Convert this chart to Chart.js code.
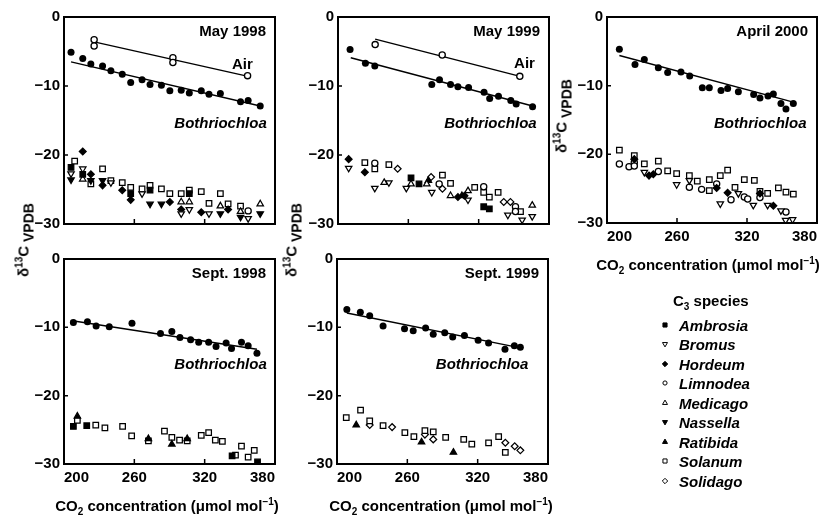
<!DOCTYPE html>
<html>
<head>
<meta charset="utf-8">
<script src="https://cdn.jsdelivr.net/npm/chart.js@4.4.1/dist/chart.umd.min.js"></script>
<style>
  body { margin: 0; background: #fff; }
  #wrap { position: relative; width: 827px; height: 516px; overflow: hidden;
          font-family: "Liberation Sans", Arial, sans-serif; font-weight: bold; color: #000; }
  canvas.panel { position: absolute; }
  .lbl { position: absolute; white-space: nowrap; font-size: 15px; line-height: 1; }
  .lbl sup { font-size: 10px; vertical-align: 6px; line-height: 0; }
  .lbl sub { font-size: 10px; vertical-align: -4px; line-height: 0; }
  .ylab sub { font-size: 14px; vertical-align: -5px; }
  .rot { transform: translate(-50%, -50%) rotate(-90deg); }
  .ctr { transform: translate(-50%, -50%); }
  .leg { position: absolute; font-style: italic; font-size: 15px; line-height: 1; white-space: nowrap; transform: translateY(-50%); }
  canvas.sym { position: absolute; }
</style>
</head>
<body>
<div id="wrap"></div>
<script>
// x axis: CO2 concentration, y axis: d13C
const xTicks = [200, 260, 320, 380];
const yTicks = [0, -10, -20, -30];
const speciesNames = ['Ambrosia', 'Bromus', 'Hordeum', 'Limnodea', 'Medicago', 'Nassella', 'Ratibida', 'Solanum', 'Solidago'];

// ---- May 1998
const may98Air = [[225.7, -3.3], [225.7, -4.2], [292.9, -5.9], [292.9, -6.6], [356.6, -8.5]];
const may98AirFit = [[225.7, -3.6], [357.1, -8.6]];
const may98Both = [[206, -5.1], [216, -6.0], [222.9, -6.8], [232.9, -7.1], [240, -7.8], [249.7, -8.3], [256.9, -9.5], [266.6, -9.1],
  [273.4, -9.8], [283.1, -9.9], [290.3, -10.7], [300, -10.6], [306.9, -11.0], [317.1, -10.7], [323.7, -11.2], [333.4, -11.1],
  [350.6, -12.3], [357.1, -12.1], [367.4, -12.9]];
const may98BothFit = [[206, -6.5], [367.4, -12.9]];
const may98C3 = {
  Ambrosia: [[206, -21.8], [216, -22.8], [256.9, -25.6], [273.4, -25.1], [306.9, -25.6]],
  Bromus: [[206, -22.7], [216, -22.0], [240, -24.0], [266.6, -25.6], [300, -28.5], [306.9, -27.9], [323.7, -28.5], [357.1, -29.2]],
  Hordeum: [[216, -19.5], [222.9, -22.8], [232.9, -24.4], [249.7, -25.1], [256.9, -26.5], [290.3, -26.8], [300, -27.9], [317.1, -28.3], [340, -27.9]],
  Limnodea: [[357.1, -28.1]],
  Medicago: [[216, -23.5], [300, -26.8], [306.9, -26.8], [333.4, -27.4], [350.6, -28.2], [367.4, -27.1]],
  Nassella: [[206, -23.6], [222.9, -23.7], [232.9, -23.7], [273.4, -27.1], [283.1, -27.1], [333.4, -28.5], [350.6, -29.0], [367.4, -28.5]],
  Solanum: [[209.1, -20.9], [222.9, -24.2], [232.9, -22.0], [240, -23.7], [249.7, -24.0], [256.9, -24.7], [266.6, -24.9], [273.4, -24.4],
    [283.1, -24.9], [290.3, -25.6], [300, -25.6], [306.9, -25.1], [317.1, -25.3], [323.7, -27.0], [333.4, -25.6], [340, -27.1], [350.6, -27.4]]
};

// ---- May 1999
const may99Air = [[231.7, -4.0], [288.9, -5.5], [355.1, -8.6]];
const may99AirFit = [[231.7, -3.2], [352.9, -8.5]];
const may99Both = [[210.3, -4.7], [223.4, -6.7], [231.4, -7.1], [280, -9.8], [286.6, -9.1], [296, -9.8], [302.3, -10.1], [311.4, -10.2],
  [324.6, -10.9], [329.4, -11.8], [336.9, -11.5], [347.4, -12.1], [352, -12.6], [366, -13.0]];
const may99BothFit = [[210.9, -5.9], [366, -12.9]];
const may99C3 = {
  Ambrosia: [[262.3, -23.3], [269.1, -24.2], [324.3, -27.5], [329.1, -27.8]],
  Bromus: [[209.1, -21.9], [231.4, -24.8], [243.4, -24.0], [258.3, -24.8], [280, -25.4], [310.9, -26.5], [344.9, -28.7], [357.1, -29.4], [365.7, -28.9]],
  Hordeum: [[209.1, -20.6], [222.9, -22.5], [302.3, -26.1], [307.9, -25.9]],
  Limnodea: [[231.4, -21.2], [286.3, -24.2], [324.3, -24.6], [351.4, -27.5], [351.4, -28.2]],
  Medicago: [[239.4, -24.0], [262.3, -24.2], [275.7, -24.2], [296, -25.9], [310.9, -25.2], [365.7, -27.3]],
  Ratibida: [[277.1, -23.7], [305.7, -25.9]],
  Solanum: [[222.9, -21.1], [231.4, -22.0], [243.4, -21.4], [289.1, -22.9], [296, -24.1], [316.6, -24.7], [324.3, -25.4], [329.1, -26.1], [336.6, -25.4], [355.7, -28.2]],
  Solidago: [[250.9, -22.0], [279.4, -23.2], [289.1, -24.9], [341.4, -26.8], [347.1, -26.8]]
};

// ---- April 2000
const apr00Both = [[210.6, -4.7], [224, -6.9], [232, -6.2], [244, -7.4], [252, -8.1], [263.4, -8.0], [270.9, -8.6], [281.7, -10.3],
  [287.7, -10.3], [297.7, -10.7], [303.4, -10.4], [312.6, -10.9], [325.7, -11.3], [331.1, -11.8], [338, -11.5], [342.6, -11.2],
  [349.1, -12.6], [353.4, -13.4], [359.7, -12.6]];
const apr00BothFit = [[210.6, -5.6], [359.7, -12.4]];
const apr00C3 = {
  Bromus: [[232, -22.6], [259.7, -24.4], [270.6, -23.8], [297.1, -27.2], [312.6, -25.7], [325.4, -27.4], [337.7, -27.4], [349.1, -28.2], [353.1, -29.6], [359.1, -29.5]],
  Hordeum: [[223.4, -20.7], [236, -23.1], [239.7, -22.9], [294, -24.9], [303.4, -25.6], [331.1, -25.7], [342.6, -27.5]],
  Limnodea: [[210.6, -21.4], [218.9, -21.8], [223.4, -21.2], [223.4, -21.7], [244, -22.5], [270.6, -24.8], [281.1, -25.1], [294, -24.3],
    [306.3, -26.6], [317.7, -26.2], [320.6, -26.5], [331.1, -26.3], [353.4, -28.4]],
  Solanum: [[210.6, -19.4], [223.4, -20.2], [232, -21.4], [244, -21.0], [252, -22.4], [259.7, -22.8], [270.6, -23.1], [277.4, -23.9],
    [287.7, -23.7], [287.7, -25.3], [297.1, -23.1], [303.4, -22.3], [309.7, -24.8], [317.7, -23.7], [326.3, -23.8], [331.1, -25.4],
    [337.7, -25.7], [346.9, -24.9], [353.4, -25.5], [359.7, -25.8]]
};

// ---- Sept. 1998
const sep98Both = [[208, -9.3], [220, -9.2], [227.4, -9.8], [238.6, -9.9], [258, -9.4], [282.3, -10.9], [292, -10.6], [298.9, -11.5],
  [308, -11.8], [314.9, -12.2], [323.4, -12.2], [329.7, -12.8], [338.3, -12.3], [342.9, -13.1], [351.4, -12.2], [357.1, -12.7], [364.6, -13.8]];
const sep98BothFit = [[205.7, -9.0], [364.6, -13.2]];
const sep98C3 = {
  Ambrosia: [[208, -24.5], [219.4, -24.4], [343.4, -28.8], [365.1, -29.7]],
  Ratibida: [[211.4, -23.0], [272, -26.3], [292, -27.1], [305.1, -26.3]],
  Solanum: [[211.4, -23.6], [227.1, -24.3], [234.9, -24.7], [250, -24.5], [257.7, -25.9], [272, -26.6], [285.7, -25.2], [292, -26.1],
    [298.6, -26.5], [305.1, -26.6], [317.1, -25.8], [323.4, -25.4], [329.1, -26.5], [335.1, -26.7], [346.3, -28.7], [351.4, -27.4],
    [357.1, -29.0], [362.3, -28.0]]
};

// ---- Sept. 1999
const sep99Both = [[208.4, -7.4], [219.9, -7.8], [227.9, -8.3], [239.3, -9.8], [257.6, -10.2], [265, -10.5], [275.6, -10.1], [282.1, -11.0],
  [291.9, -10.8], [298.7, -11.4], [308.7, -11.2], [320.4, -11.9], [329.3, -12.3], [343.3, -13.2], [351.3, -12.7], [356.4, -12.9]];
const sep99BothFit = [[208.4, -7.9], [356.4, -13.0]];
const sep99C3 = {
  Ratibida: [[216.4, -24.3], [272.1, -26.8], [299.3, -28.3]],
  Solanum: [[207.9, -23.2], [220.1, -22.1], [227.9, -23.7], [239.3, -24.4], [257.9, -25.4], [265.6, -26.0], [275, -25.1], [282.1, -25.3],
    [292.7, -26.1], [308.1, -26.4], [315, -27.1], [329.3, -26.9], [337.9, -26.0], [343.6, -28.3]],
  Solidago: [[227.9, -24.3], [247, -24.6], [275, -25.7], [282.1, -26.4], [343.6, -26.9], [351.6, -27.4], [356.4, -28.0]]
};

// marker look for each species: [pointStyle, rotation, filled]
const speciesStyle = {
  Ambrosia: ['rect', 0, true],
  Bromus: ['triangle', 180, false],
  Hordeum: ['rectRot', 0, true],
  Limnodea: ['circle', 0, false],
  Medicago: ['triangle', 0, false],
  Nassella: ['triangle', 180, true],
  Ratibida: ['triangle', 0, true],
  Solanum: ['rect', 0, false],
  Solidago: ['rectRot', 0, false]
};
// marker radius per point style (plot, key)
const styleSize = {
  rect: [3.9, 2.9],
  triangle: [3.7, 2.9],
  rectRot: [3.4, 2.7],
  circle: [3.1, 2.1]
};

const FONT = '"Liberation Sans", Arial, sans-serif';
const wrap = document.getElementById('wrap');

function c3Sets(c3) {
  return Object.keys(c3).map(name => {
    const [style, rot, filled] = speciesStyle[name];
    return {
      label: name, data: c3[name],
      pointStyle: style, rotation: rot,
      radius: styleSize[style][0],
      backgroundColor: filled ? '#000' : '#fff',
      borderColor: '#000', borderWidth: 1.25
    };
  });
}
function pointSet(data, filled) {
  return { data, pointStyle: 'circle', radius: filled ? 3.5 : 3.1,
    backgroundColor: filled ? '#000' : '#fff', borderColor: '#000', borderWidth: filled ? 0 : 1.3 };
}
function fitSet(data) {
  return { data, showLine: true, pointRadius: 0, borderColor: '#000', borderWidth: 1.4, fill: false };
}

// box frame, inward ticks and the texts inside the panel
const framePlugin = {
  id: 'frame',
  afterDatasetsDraw(chart, args, opts) {
    const { ctx, chartArea: a, scales: { x, y } } = chart;
    ctx.save();
    ctx.strokeStyle = '#000';
    ctx.lineWidth = 1.5;
    ctx.beginPath();
    xTicks.slice(1, -1).forEach(v => {
      const px = x.getPixelForValue(v);
      ctx.moveTo(px, a.bottom); ctx.lineTo(px, a.bottom - 5);
    });
    yTicks.slice(1, -1).forEach(v => {
      const py = y.getPixelForValue(v);
      ctx.moveTo(a.left, py); ctx.lineTo(a.left + 4, py);
    });
    ctx.stroke();
    ctx.lineWidth = 2;
    ctx.strokeRect(a.left, a.top, a.right - a.left, a.bottom - a.top);

    ctx.fillStyle = '#000';
    ctx.textBaseline = 'middle';
    ctx.textAlign = 'right';
    ctx.font = 'bold 15px ' + FONT;
    ctx.fillText(opts.title, a.right - 9, a.top + 15);
    (opts.notes || []).forEach(n => {
      ctx.font = (n.italic ? 'italic ' : '') + 'bold 15px ' + FONT;
      ctx.fillText(n.text, x.getPixelForValue(n.x), y.getPixelForValue(n.y));
    });
    ctx.restore();
  }
};

function makePanel(box, datasets, title, notes, showX) {
  const cv = document.createElement('canvas');
  cv.className = 'panel';
  const W = box.w + 60, H = box.h + 40;
  cv.width = W; cv.height = H;
  cv.style.left = (box.left - 50) + 'px';
  cv.style.top = (box.top - 10) + 'px';
  cv.style.width = W + 'px';
  cv.style.height = H + 'px';
  wrap.appendChild(cv);
  const tickFont = { family: FONT, size: 15, weight: 'bold' };
  return new Chart(cv, {
    type: 'scatter',
    data: { datasets },
    plugins: [framePlugin],
    options: {
      responsive: false,
      animation: false,
      layout: { padding: { top: 10, right: 10, left: 0, bottom: 0 } },
      plugins: {
        legend: { display: false },
        tooltip: { enabled: false },
        frame: { title, notes }
      },
      scales: {
        x: {
          type: 'linear', min: 200, max: 380,
          afterFit: s => { s.height = 30; },
          grid: { display: false, drawTicks: false },
          border: { display: false },
          ticks: { display: showX, stepSize: 60, align: 'inner', padding: 5, color: '#000', font: tickFont, maxRotation: 0, autoSkip: false }
        },
        y: {
          type: 'linear', min: -30, max: 0,
          afterFit: s => { s.width = 50; },
          grid: { display: false, drawTicks: false },
          border: { display: false },
          ticks: { stepSize: 10, padding: 4, color: '#000', font: tickFont,
            callback: v => v === 0 ? '0' : '\u2212' + Math.abs(v) }
        }
      }
    }
  });
}

const both = (x, y) => ({ text: 'Bothriochloa', x, y, italic: true });

makePanel({ left: 64, top: 14, w: 211, h: 210 },
  [...c3Sets(may98C3), pointSet(may98Both, true), pointSet(may98Air, false), fitSet(may98BothFit), fitSet(may98AirFit)],
  'May 1998', [{ text: 'Air', x: 361, y: -6.9 }, both(373, -15.5)], false);

makePanel({ left: 338, top: 14, w: 211, h: 210 },
  [...c3Sets(may99C3), pointSet(may99Both, true), pointSet(may99Air, false), fitSet(may99BothFit), fitSet(may99AirFit)],
  'May 1999', [{ text: 'Air', x: 368, y: -6.8 }, both(369.5, -15.5)], false);

makePanel({ left: 607, top: 14, w: 210, h: 209 },
  [...c3Sets(apr00C3), pointSet(apr00Both, true), fitSet(apr00BothFit)],
  'April 2000', [both(371, -15.6)], true);

makePanel({ left: 64, top: 256, w: 211, h: 208 },
  [...c3Sets(sep98C3), pointSet(sep98Both, true), fitSet(sep98BothFit)],
  'Sept. 1998', [both(373, -15.5)], true);

makePanel({ left: 337, top: 256, w: 211, h: 208 },
  [...c3Sets(sep99C3), pointSet(sep99Both, true), fitSet(sep99BothFit)],
  'Sept. 1999', [both(363.2, -15.5)], true);

// axis titles
function addText(html, cls, x, y) {
  const d = document.createElement('div');
  d.className = 'lbl ' + cls;
  d.innerHTML = html;
  d.style.left = x + 'px';
  d.style.top = y + 'px';
  wrap.appendChild(d);
}
const yTitle = '\u03b4<sup>13</sup>C<sub> VPDB</sub>';
const xTitle = 'CO<sub>2</sub> concentration (\u03bcmol mol<sup>\u22121</sup>)';
addText(yTitle, 'ylab rot', 23, 240);
addText(yTitle, 'ylab rot', 291, 240);
addText(yTitle, 'ylab rot', 561, 116);
addText(xTitle, 'ctr', 708, 264);
addText(xTitle, 'ctr', 167, 505);
addText(xTitle, 'ctr', 441, 505);

// species key
addText('C<sub>3</sub> species', '', 673, 293);
speciesNames.forEach((name, i) => {
  const yc = 325 + i * 19.45;
  const sym = document.createElement('canvas');
  sym.className = 'sym';
  sym.width = 12; sym.height = 12;
  sym.style.left = (665 - 6) + 'px';
  sym.style.top = (yc - 6) + 'px';
  wrap.appendChild(sym);
  const [style, rot, filled] = speciesStyle[name];
  const ctx = sym.getContext('2d');
  ctx.fillStyle = filled ? '#000' : '#fff';
  ctx.strokeStyle = '#000';
  ctx.lineWidth = 1;
  if (Chart.helpers && Chart.helpers.drawPoint) {
    Chart.helpers.drawPoint(ctx, { pointStyle: style, rotation: rot, radius: styleSize[style][1], borderWidth: 1 }, 6, 6);
  }
  const t = document.createElement('div');
  t.className = 'leg';
  t.textContent = name;
  t.style.left = '679px';
  t.style.top = yc + 'px';
  wrap.appendChild(t);
});
</script>
</body>
</html>
